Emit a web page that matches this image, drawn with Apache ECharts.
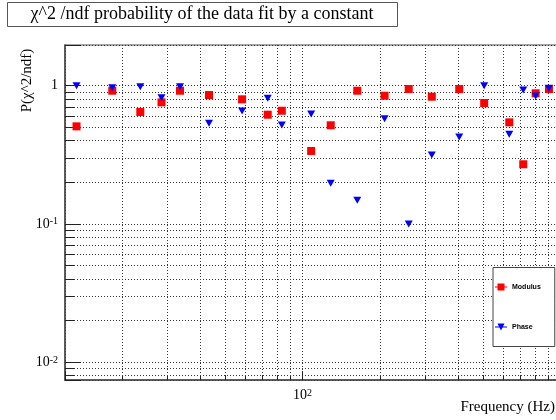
<!DOCTYPE html>
<html>
<head>
<meta charset="utf-8">
<script src="https://cdn.jsdelivr.net/npm/echarts@6/dist/echarts.min.js"></script>
<style>
  html, body { margin: 0; padding: 0; background: #fff; }
  #chart { width: 556px; height: 420px; }
</style>
</head>
<body>
<div id="chart"></div>
<script>
// frequencies (Hz) and chi2/ndf probabilities
const freq = [13.3, 18.3, 23.5, 28.4, 33.5, 43.4, 58.3, 73.3, 83.1, 108, 128.6,
              163, 208, 258, 317, 405, 506, 633, 717, 801, 902];
const modulus = [0.508, 0.92, 0.645, 0.758, 0.92, 0.856, 0.797, 0.617, 0.659, 0.337, 0.517,
                 0.92, 0.846, 0.946, 0.833, 0.946, 0.749, 0.543, 0.27, 0.881, 0.946];
const phase = [1.0, 0.967, 0.983, 0.819, 0.983, 0.534, 0.656, 0.811, 0.519, 0.624, 0.197,
               0.148, 0.577, 0.0998, 0.315, 0.425, 1.0, 0.445, 0.931, 0.842, 0.958];

const xTickValues = [100];
const xTickText = ['{n|10}{s|2}'];
const yTickValues = [0.01, 0.1, 1];
const yTickText = ['{n|10}{s|-2}', '{n|10}{s|-1}', '1'];

const serif = '"Liberation Serif", "DejaVu Serif", serif';
const sans = '"Liberation Sans", Arial, sans-serif';
const dotted = [1, 2];

function logLabel(value, ticks, texts) {
  for (let i = 0; i < ticks.length; i++) {
    if (Math.abs(Math.log10(value) - Math.log10(ticks[i])) < 1e-6) return texts[i];
  }
  return '';
}

const labelRich = {
  n: { fontSize: 14, fontFamily: serif, color: '#000' },
  s: { fontSize: 10, fontFamily: serif, color: '#000', verticalAlign: 'top' }
};

const myChart = echarts.init(document.getElementById('chart'));

myChart.setOption({
  animation: false,
  backgroundColor: '#fff',
  grid: {
    left: 65, top: 45, right: -4.5, bottom: 40,
    show: true, borderColor: '#888', borderWidth: 1.5, backgroundColor: '#fff',
    containLabel: false, outerBoundsMode: 'none'
  },
  legend: {
    orient: 'vertical', left: 493, top: 267.5,
    padding: [16, 14, 16, 2], itemGap: 33, itemWidth: 12, itemHeight: 8,
    backgroundColor: '#fff', borderColor: '#444', borderWidth: 1,
    textStyle: { fontFamily: sans, fontWeight: 'bold', fontSize: 7, color: '#000' },
    data: [
      { name: 'Modulus', icon: 'path://M0,3.5L12,3.5L12,4.5L0,4.5Z M2.5,0.5L9.5,0.5L9.5,7.5L2.5,7.5Z' },
      { name: 'Phase', icon: 'path://M0,3.5L12,3.5L12,4.5L0,4.5Z M2.5,0.5L9.5,0.5L6,7.5Z' }
    ]
  },
  xAxis: {
    type: 'log', logBase: 10, min: 12, max: 1000,
    axisLine: { show: true, lineStyle: { color: '#444', width: 1.5 } },
    axisTick: { show: true, inside: true, length: 9, lineStyle: { color: '#222' } },
    minorTick: { show: true, splitNumber: 9, length: 4, lineStyle: { color: '#222' } },
    splitLine: { show: true, lineStyle: { color: '#333', type: dotted, width: 1 } },
    minorSplitLine: { show: true, lineStyle: { color: '#333', type: dotted, width: 1 } },
    axisLabel: {
      show: true, margin: 8, fontSize: 14, fontFamily: serif, color: '#000',
      showMinLabel: false, showMaxLabel: false,
      formatter: function (v) { return logLabel(v, xTickValues, xTickText); },
      rich: labelRich
    }
  },
  yAxis: {
    type: 'log', logBase: 10, min: 0.00741, max: 1.971,
    axisLine: { show: true, lineStyle: { color: '#444', width: 1.5 } },
    axisTick: { show: true, inside: true, length: 16, lineStyle: { color: '#222' } },
    minorTick: { show: true, splitNumber: 9, length: 9, lineStyle: { color: '#222' } },
    splitLine: { show: true, lineStyle: { color: '#333', type: dotted, width: 1 } },
    minorSplitLine: { show: true, lineStyle: { color: '#333', type: dotted, width: 1 } },
    axisLabel: {
      show: true, margin: 7, fontSize: 14, fontFamily: serif, color: '#000',
      showMinLabel: false, showMaxLabel: false,
      formatter: function (v) { return logLabel(v, yTickValues, yTickText); },
      rich: labelRich
    }
  },
  series: [
    {
      name: 'Modulus', type: 'scatter', symbol: 'rect', symbolSize: 8,
      itemStyle: { color: '#ff0000', opacity: 1 },
      data: freq.map(function (f, i) { return [f, modulus[i]]; })
    },
    {
      name: 'Phase', type: 'scatter', symbol: 'triangle', symbolRotate: 180, symbolSize: [8, 7],
      itemStyle: { color: '#0000ff', opacity: 1 },
      data: freq.map(function (f, i) { return [f, phase[i]]; })
    }
  ],
  graphic: [
    {
      type: 'rect', left: 7, top: 2, z: 10,
      shape: { width: 390, height: 24 },
      style: { fill: '#fff', stroke: '#555', lineWidth: 1 }
    },
    {
      type: 'text', x: 202, y: 14.5, z: 11,
      style: {
        text: 'χ^2 /ndf probability of the data fit by a constant',
        fontSize: 18, fontFamily: serif, fill: '#000',
        align: 'center', verticalAlign: 'middle', textAlign: 'center', textVerticalAlign: 'middle'
      }
    },
    {
      type: 'text', x: 27, y: 80.5, rotation: Math.PI / 2, z: 11,
      style: {
        text: 'P(χ^2/ndf)',
        fontSize: 15, fontFamily: serif, fill: '#000',
        align: 'center', verticalAlign: 'middle', textAlign: 'center', textVerticalAlign: 'middle'
      }
    },
    {
      type: 'text', x: 555, y: 407, z: 11,
      style: {
        text: 'Frequency (Hz)',
        fontSize: 15, fontFamily: serif, fill: '#000',
        align: 'right', verticalAlign: 'middle', textAlign: 'right', textVerticalAlign: 'middle'
      }
    }
  ]
});
</script>
</body>
</html>
